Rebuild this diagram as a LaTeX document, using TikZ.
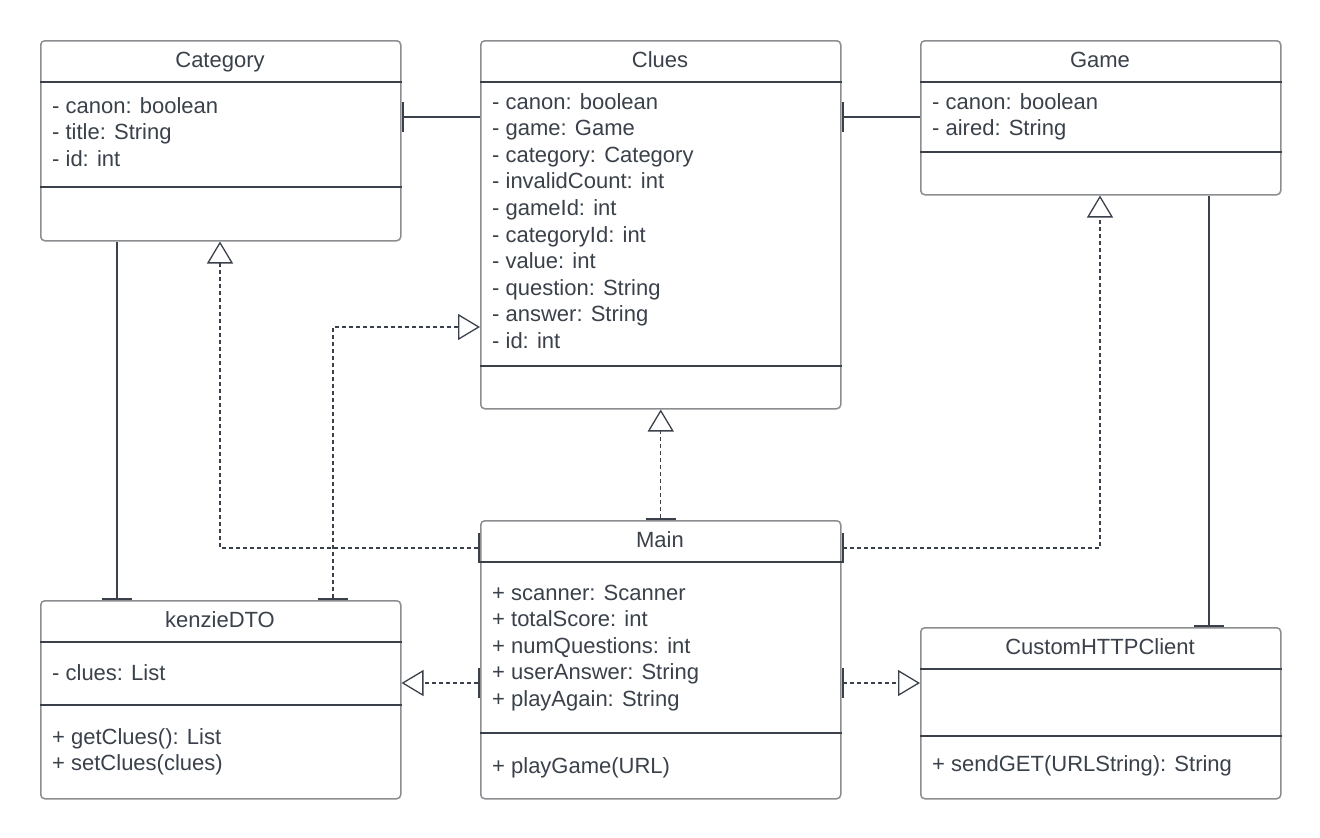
\documentclass[tikz,border=0pt]{standalone}
\usepackage{fontspec}
\setmainfont{Liberation Sans}
\usetikzlibrary{arrows.meta,calc}
\definecolor{ink}{HTML}{3A414A}
\definecolor{edge}{HTML}{8C8D91}
\tikzset{
  umlbox/.style={draw=edge, line width=1.5pt, rounded corners=4pt, fill=white, minimum width=360pt, inner sep=0pt, anchor=north west},
  sepline/.style={draw=ink, line width=1.2pt},
  title/.style={text=ink, inner sep=0pt, anchor=base, font=\fontsize{22}{26}\selectfont},
  member/.style={text=ink, inner sep=0pt, anchor=base west, font=\fontsize{22}{26}\selectfont},
  assoc/.style={draw=ink, line width=1.3pt, {Bar[width=30pt,line width=2.5pt]}-},
  dep/.style={draw=ink, line width=1.3pt, dash pattern=on 4pt off 3pt, {Bar[width=30pt,line width=2.5pt]}-{Triangle[open,length=22pt,width=26pt,line width=1.3pt]}},
}
\begin{document}
\begin{tikzpicture}[x=1pt,y=-1pt]
\useasboundingbox (0,0) rectangle (1320,838);
% boxes
\node[umlbox, minimum height=200pt] (cat) at (40,40) {};
\node[umlbox, minimum height=368pt] (clues) at (480,40) {};
\node[umlbox, minimum height=154pt] (game) at (920,40) {};
\node[umlbox, minimum height=278pt] (main) at (480,520) {};
\node[umlbox, minimum height=198pt] (dto) at (40,600) {};
\node[umlbox, minimum height=171pt] (http) at (920,627) {};
% separators
\draw[sepline] ($(cat.north west)+(0,42)$) -- ($(cat.north east)+(0,42)$);
\draw[sepline] ($(cat.north west)+(0,147)$) -- ($(cat.north east)+(0,147)$);
\draw[sepline] ($(clues.north west)+(0,42)$) -- ($(clues.north east)+(0,42)$);
\draw[sepline] ($(clues.north west)+(0,326)$) -- ($(clues.north east)+(0,326)$);
\draw[sepline] ($(game.north west)+(0,42)$) -- ($(game.north east)+(0,42)$);
\draw[sepline] ($(game.north west)+(0,112)$) -- ($(game.north east)+(0,112)$);
\draw[sepline] ($(main.north west)+(0,42)$) -- ($(main.north east)+(0,42)$);
\draw[sepline] ($(main.north west)+(0,213)$) -- ($(main.north east)+(0,213)$);
\draw[sepline] ($(dto.north west)+(0,42)$) -- ($(dto.north east)+(0,42)$);
\draw[sepline] ($(dto.north west)+(0,105)$) -- ($(dto.north east)+(0,105)$);
\draw[sepline] ($(http.north west)+(0,42)$) -- ($(http.north east)+(0,42)$);
\draw[sepline] ($(http.north west)+(0,109)$) -- ($(http.north east)+(0,109)$);
% titles (baseline = visual centre + 8)
\node[title] (catT) at (220,67) {Category};
\node[title] (cluesT) at (660,67) {Clues};
\node[title] (gameT) at (1100,67) {Game};
\node[title] (mainT) at (660,547) {Main};
\node[title] (dtoT) at (220,627) {kenzieDTO};
\node[title] (httpT) at (1100,654) {CustomHTTPClient};
% Category members
\node[member] (c1) at (52,113) {- canon: boolean};
\node[member] (c2) at (52,139.5) {- title: String};
\node[member] (c3) at (52,166) {- id: int};
% Clues members
\node[member] (q1) at (492,109) {- canon: boolean};
\node[member] (q2) at (492,135.6) {- game: Game};
\node[member] (q3) at (492,162.2) {- category: Category};
\node[member] (q4) at (492,188.8) {- invalidCount: int};
\node[member] (q5) at (492,215.4) {- gameId: int};
\node[member] (q6) at (492,242) {- categoryId: int};
\node[member] (q7) at (492,268.6) {- value: int};
\node[member] (q8) at (492,295.2) {- question: String};
\node[member] (q9) at (492,321.8) {- answer: String};
\node[member] (q10) at (492,348.4) {- id: int};
% Game members
\node[member] (g1) at (932,109) {- canon: boolean};
\node[member] (g2) at (932,135.6) {- aired: String};
% Main members
\node[member] (m1) at (492,600) {+ scanner: Scanner};
\node[member] (m2) at (492,626.6) {+ totalScore: int};
\node[member] (m3) at (492,653.2) {+ numQuestions: int};
\node[member] (m4) at (492,679.8) {+ userAnswer: String};
\node[member] (m5) at (492,706.4) {+ playAgain: String};
\node[member] (m6) at (492,773) {+ playGame(URL)};
% kenzieDTO members
\node[member] (d1) at (52,680) {- clues: List};
\node[member] (d2) at (52,744) {+ getClues(): List};
\node[member] (d3) at (52,770.6) {+ setClues(clues)};
% CustomHTTPClient members
\node[member] (h1) at (932,771) {+ sendGET(URLString): String};
% connectors
\draw[assoc] ($(cat.north east)+(0,77)$) -- ($(clues.north west)+(0,77)$);
\draw[assoc] ($(clues.north east)+(0,77)$) -- ($(game.north west)+(0,77)$);
\draw[assoc] ($(dto.north west)+(77,0)$) -- ($(cat.south west)+(77,0)$);
\draw[assoc] ($(http.north west)+(289,0)$) -- ($(game.south west)+(289,0)$);
\draw[dep] ($(dto.north west)+(293,0)$) |- ($(clues.north west)+(0,287)$);
\draw[dep] (main.north) -- (clues.south);
\draw[dep] ($(main.north west)+(0,28)$) -| ($(cat.south west)+(180,0)$);
\draw[dep] ($(main.north east)+(0,28)$) -| ($(game.south west)+(180,0)$);
\draw[dep] ($(main.north west)+(0,163)$) -- ($(dto.north east)+(0,83)$);
\draw[dep] ($(main.north east)+(0,163)$) -- ($(http.north west)+(0,56)$);
\end{tikzpicture}
\end{document}
